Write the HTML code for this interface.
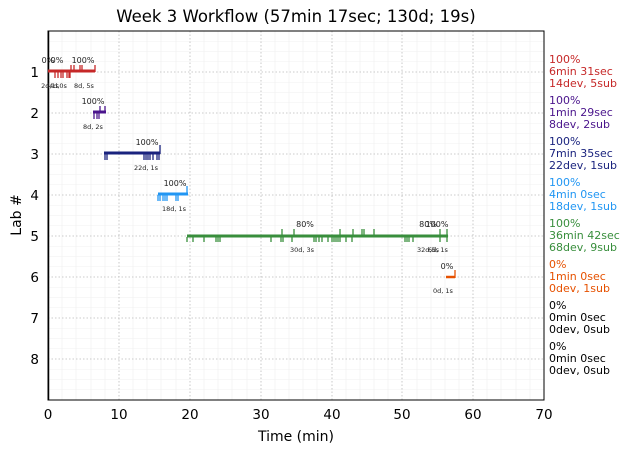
<!DOCTYPE html><html><head><style>body{margin:0;background:#fff}svg{font-family:"DejaVu Sans","Liberation Sans",sans-serif}</style></head><body>
<svg width="630" height="453" xmlns="http://www.w3.org/2000/svg">
<rect width="630" height="453" fill="#fff"/>
<text x="296" y="22" font-size="16.5" text-anchor="middle">Week 3 Workflow (57min 17sec; 130d; 19s)</text>
<g stroke="#f0f0f0" stroke-width="0.6">
<line x1="62" y1="31" x2="62" y2="400"/><line x1="76" y1="31" x2="76" y2="400"/><line x1="91" y1="31" x2="91" y2="400"/><line x1="105" y1="31" x2="105" y2="400"/>
<line x1="133" y1="31" x2="133" y2="400"/><line x1="147" y1="31" x2="147" y2="400"/><line x1="161" y1="31" x2="161" y2="400"/><line x1="176" y1="31" x2="176" y2="400"/>
<line x1="204" y1="31" x2="204" y2="400"/><line x1="218" y1="31" x2="218" y2="400"/><line x1="232" y1="31" x2="232" y2="400"/><line x1="247" y1="31" x2="247" y2="400"/>
<line x1="275" y1="31" x2="275" y2="400"/><line x1="289" y1="31" x2="289" y2="400"/><line x1="303" y1="31" x2="303" y2="400"/><line x1="317" y1="31" x2="317" y2="400"/>
<line x1="346" y1="31" x2="346" y2="400"/><line x1="360" y1="31" x2="360" y2="400"/><line x1="374" y1="31" x2="374" y2="400"/><line x1="388" y1="31" x2="388" y2="400"/>
<line x1="417" y1="31" x2="417" y2="400"/><line x1="431" y1="31" x2="431" y2="400"/><line x1="445" y1="31" x2="445" y2="400"/><line x1="459" y1="31" x2="459" y2="400"/>
<line x1="487" y1="31" x2="487" y2="400"/><line x1="501" y1="31" x2="501" y2="400"/><line x1="516" y1="31" x2="516" y2="400"/><line x1="530" y1="31" x2="530" y2="400"/>
<path d="M48 41.25H544M48 51.5H544M48 61.75H544M48 82.25H544M48 92.5H544M48 102.75H544M48 123.25H544M48 133.5H544M48 143.75H544M48 164.25H544M48 174.5H544M48 184.75H544M48 205.25H544M48 215.5H544M48 225.75H544M48 246.25H544M48 256.5H544M48 266.75H544M48 287.25H544M48 297.5H544M48 307.75H544M48 328.25H544M48 338.5H544M48 348.75H544M48 369.25H544M48 379.5H544M48 389.75H544"/>
</g>
<g stroke="#bbb" stroke-width="0.8" stroke-dasharray="1.5,2">
<line x1="119" y1="31" x2="119" y2="400"/><line x1="190" y1="31" x2="190" y2="400"/><line x1="261" y1="31" x2="261" y2="400"/><line x1="332" y1="31" x2="332" y2="400"/><line x1="402" y1="31" x2="402" y2="400"/><line x1="473" y1="31" x2="473" y2="400"/>
<line x1="48" y1="72" x2="544" y2="72"/><line x1="48" y1="113" x2="544" y2="113"/><line x1="48" y1="154" x2="544" y2="154"/><line x1="48" y1="195" x2="544" y2="195"/><line x1="48" y1="236" x2="544" y2="236"/><line x1="48" y1="277" x2="544" y2="277"/><line x1="48" y1="318" x2="544" y2="318"/><line x1="48" y1="359" x2="544" y2="359"/>
</g>
<rect x="48" y="31" width="496" height="369" fill="none" stroke="#000" stroke-width="1"/>
<line x1="48.5" y1="31" x2="48.5" y2="400" stroke="#000" stroke-width="1.5"/>
<g font-size="13.5" text-anchor="middle">
<text x="48" y="419">0</text><text x="119" y="419">10</text><text x="190" y="419">20</text><text x="261" y="419">30</text><text x="332" y="419">40</text><text x="402" y="419">50</text><text x="473" y="419">60</text><text x="544" y="419">70</text>
</g>
<text x="296" y="441" font-size="14" text-anchor="middle">Time (min)</text>
<g font-size="13.5" text-anchor="end">
<text x="39" y="77">1</text><text x="39" y="118">2</text><text x="39" y="159">3</text><text x="39" y="200">4</text><text x="39" y="241">5</text><text x="39" y="282">6</text><text x="39" y="323">7</text><text x="39" y="364">8</text>
</g>
<text x="21" y="215" font-size="14" text-anchor="middle" transform="rotate(-90 21 215)">Lab #</text>
<g stroke-width="1.3">
<g stroke="#c62828"><line x1="48" y1="71" x2="95" y2="71" stroke-width="3"/>
<path d="M55 72v6M61 72v6M63 72v6M67 72v6M69 72v6M70 72v6M58 72v6M71 72v-7M74 72v-7M80 72v-7M82 72v-7M95 72v-7"/></g>
<g stroke="#4a148c"><line x1="93" y1="112" x2="106" y2="112" stroke-width="3"/><path d="M94 113v6M97 113v6M99 113v6M100 113v-7M105 113v-7"/></g>
<g stroke="#1a237e"><line x1="104" y1="153" x2="160" y2="153" stroke-width="3"/><path d="M105 154v6M107 154v6M144 154v6M146 154v6M148 154v6M150 154v6M153 154v6M157 154v6M159 154v6M160 154v-9"/></g>
<g stroke="#2196f3"><line x1="158" y1="194" x2="188" y2="194" stroke-width="3"/><path d="M158 195v6M160 195v6M163 195v6M165 195v6M167 195v6M176 195v6M178 195v6M187 195v-9"/></g>
<g stroke="#388e3c"><line x1="187" y1="236" x2="448" y2="236" stroke-width="3"/>
<path d="M187 237v5M193 237v5M204 237v5M216 237v5M218 237v5M220 237v5M271 237v5M281 237v5M283 237v5M292 237v5M314 237v5M316 237v5M319 237v5M322 237v5M328 237v5M332 237v5M334 237v5M336 237v5M338 237v5M340 237v5M346 237v5M352 237v5M405 237v5M407 237v5M409 237v5M413 237v5M440 237v5M447 237v5
M282 236v-7M294 236v-7M340 236v-7M353 236v-7M362 236v-7M364 236v-7M374 236v-7M440 236v-7M447 236v-7"/></g>
<g stroke="#e65100"><line x1="446" y1="277" x2="455" y2="277" stroke-width="2.5"/><path d="M455 278v-8"/></g>
</g>
<g font-size="8" text-anchor="middle" fill="#222">
<text x="48" y="63">0%</text><text x="57" y="63">0%</text><text x="83" y="63">100%</text>
<text x="50" y="88" font-size="6.5">2d,1s</text><text x="58" y="88" font-size="6.5">4d,0s</text><text x="84" y="88" font-size="6.5">8d, 5s</text>
<text x="93" y="104">100%</text><text x="93" y="129" font-size="6.5">8d, 2s</text>
<text x="147" y="145">100%</text><text x="146" y="170" font-size="6.5">22d, 1s</text>
<text x="175" y="186">100%</text><text x="174" y="211" font-size="6.5">18d, 1s</text>
<text x="305" y="227">80%</text><text x="302" y="252" font-size="6.5">30d, 3s</text>
<text x="428" y="227">80%</text><text x="437" y="227">100%</text><text x="428" y="252" font-size="6.5">32d,5s</text><text x="438" y="252" font-size="6.5">6d, 1s</text>
<text x="447" y="269">0%</text><text x="443" y="293" font-size="6.5">0d, 1s</text>
</g>
<g font-size="11">
<g fill="#c62828"><text x="549" y="63">100%</text><text x="549" y="75">6min 31sec</text><text x="549" y="87">14dev, 5sub</text></g>
<g fill="#4a148c"><text x="549" y="104">100%</text><text x="549" y="116">1min 29sec</text><text x="549" y="128">8dev, 2sub</text></g>
<g fill="#1a237e"><text x="549" y="145">100%</text><text x="549" y="157">7min 35sec</text><text x="549" y="169">22dev, 1sub</text></g>
<g fill="#2196f3"><text x="549" y="186">100%</text><text x="549" y="198">4min 0sec</text><text x="549" y="210">18dev, 1sub</text></g>
<g fill="#388e3c"><text x="549" y="227">100%</text><text x="549" y="239">36min 42sec</text><text x="549" y="251">68dev, 9sub</text></g>
<g fill="#e65100"><text x="549" y="268">0%</text><text x="549" y="280">1min 0sec</text><text x="549" y="292">0dev, 1sub</text></g>
<g fill="#000"><text x="549" y="309">0%</text><text x="549" y="321">0min 0sec</text><text x="549" y="333">0dev, 0sub</text>
<text x="549" y="350">0%</text><text x="549" y="362">0min 0sec</text><text x="549" y="374">0dev, 0sub</text></g>
</g>
</svg></body></html>
